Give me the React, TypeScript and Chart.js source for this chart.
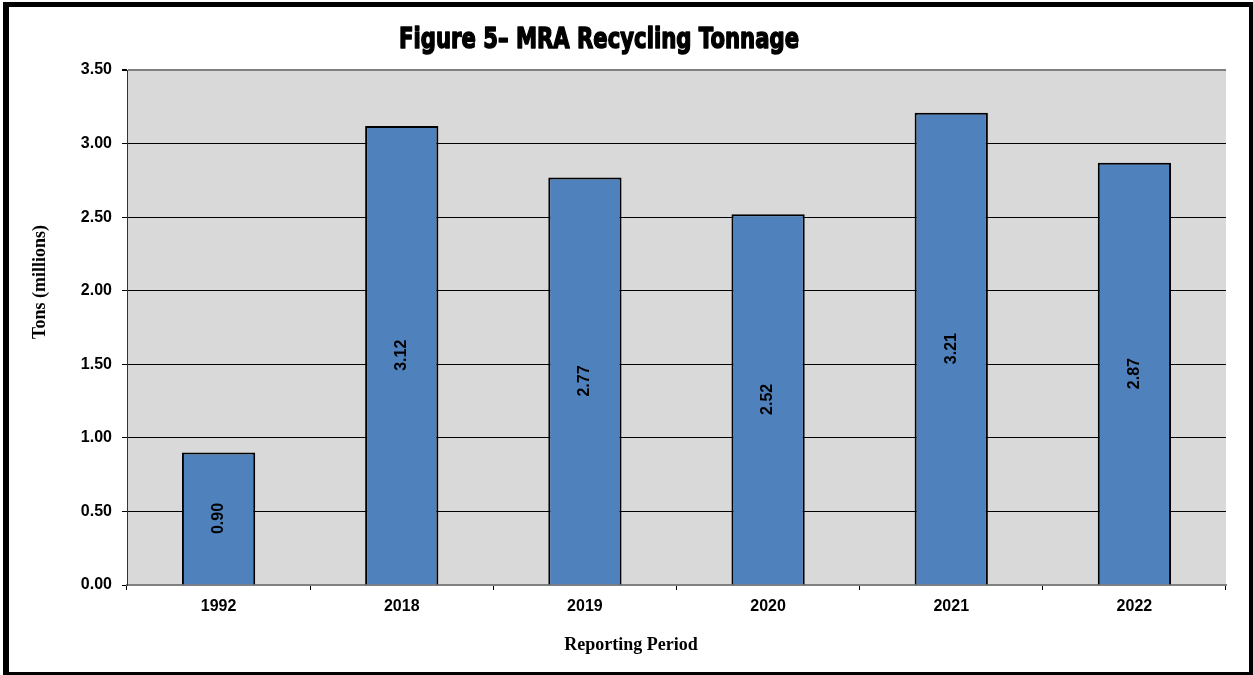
import React, { useEffect, useRef } from "react";
import { Chart, registerables } from "chart.js";

Chart.register(...registerables);

const TITLE = "Figure 5\u2013 MRA Recycling Tonnage";
const Y_TITLE = "Tons (millions)";
const X_TITLE = "Reporting Period";
const categories = ["1992", "2018", "2019", "2020", "2021", "2022"];
const tonnage = [0.9, 3.12, 2.77, 2.52, 3.21, 2.87];
const yMin = 0;
const yMax = 3.5;
const yStep = 0.5;

const plotBg = {
  id: "plotBg",
  beforeDraw(chart: any) {
    const { ctx, chartArea } = chart;
    ctx.save();
    ctx.fillStyle = "#d9d9d9";
    ctx.fillRect(chartArea.left, chartArea.top, chartArea.right - chartArea.left, chartArea.bottom - chartArea.top);
    ctx.restore();
  },
};

const barLabels = {
  id: "barLabels",
  afterDatasetsDraw(chart: any) {
    const { ctx } = chart;
    const meta = chart.getDatasetMeta(0);
    meta.data.forEach((bar: any, i: number) => {
      const p = bar.getProps(["x", "y", "base"], true);
      ctx.save();
      ctx.translate(p.x, (p.y + p.base) / 2);
      ctx.rotate(-Math.PI / 2);
      ctx.font = "bold 16px 'Liberation Sans', Arial, sans-serif";
      ctx.fillStyle = "#000";
      ctx.textAlign = "center";
      ctx.textBaseline = "middle";
      ctx.fillText(tonnage[i].toFixed(2), 0, 0);
      ctx.restore();
    });
  },
};

const texts = {
  id: "texts",
  afterDraw(chart: any) {
    const { ctx } = chart;
    // main title: heavy condensed look
    ctx.save();
    ctx.font = "bold 29px 'DejaVu Sans', sans-serif";
    const w = ctx.measureText(TITLE).width;
    const targetW = 400;
    ctx.translate(390, 41);
    ctx.scale(targetW / w, 1);
    ctx.fillStyle = "#000";
    ctx.strokeStyle = "#000";
    ctx.lineWidth = 1.6;
    ctx.lineJoin = "round";
    ctx.textAlign = "left";
    ctx.textBaseline = "alphabetic";
    ctx.fillText(TITLE, 0, 0);
    ctx.strokeText(TITLE, 0, 0);
    ctx.restore();

    // y axis title
    ctx.save();
    ctx.font = "bold 18px 'Liberation Serif', 'Times New Roman', serif";
    ctx.fillStyle = "#000";
    ctx.textAlign = "center";
    ctx.textBaseline = "middle";
    ctx.translate(31, 275);
    ctx.rotate(-Math.PI / 2);
    ctx.fillText(Y_TITLE, 0, 0);
    ctx.restore();

    // x axis title
    ctx.save();
    ctx.font = "bold 18px 'Liberation Serif', 'Times New Roman', serif";
    ctx.fillStyle = "#000";
    ctx.textAlign = "center";
    ctx.textBaseline = "middle";
    ctx.fillText(X_TITLE, 622, 638);
    ctx.restore();
  },
};

export default function App() {
  const ref = useRef<HTMLCanvasElement | null>(null);

  useEffect(() => {
    if (!ref.current) return;
    const tickFont = { family: "'Liberation Sans', Arial, sans-serif", size: 16, weight: "bold" as const };
    const chart = new Chart(ref.current, {
      type: "bar",
      data: {
        labels: categories,
        datasets: [
          {
            data: tonnage,
            backgroundColor: "#4f81bd",
            borderColor: "#000000",
            borderWidth: 2,
            barPercentage: 0.4,
            categoryPercentage: 1,
          },
        ],
      },
      options: {
        responsive: false,
        animation: false,
        layout: { padding: { top: 63, right: 23, left: 0, bottom: 0 } },
        plugins: {
          legend: { display: false },
          title: { display: false },
          tooltip: { enabled: false },
        },
        scales: {
          x: {
            offset: true,
            afterFit(s: any) {
              s.height = 87;
            },
            grid: {
              drawOnChartArea: false,
              drawTicks: true,
              tickLength: 5,
              tickColor: "#000",
              offset: true,
            },
            border: { color: "#808080", width: 2 },
            ticks: { color: "#000", font: tickFont, padding: 7, maxRotation: 0 },
          },
          y: {
            min: yMin,
            max: yMax,
            afterFit(s: any) {
              s.width = 118;
            },
            grid: {
              color: (c: any) => (c.tick && (c.tick.value === yMax || c.tick.value === yMin) ? "#808080" : "#000"),
              lineWidth: (c: any) => (c.tick && c.tick.value === yMax ? 2 : 1),
              tickLength: 5,
              tickColor: "#000",
            },
            border: { color: "#333", width: 1 },
            ticks: {
              stepSize: yStep,
              color: "#000",
              font: tickFont,
              padding: 10,
              callback: (v: any) => Number(v).toFixed(2),
            },
          },
        },
      },
      plugins: [plotBg, barLabels, texts],
    });
    return () => chart.destroy();
  }, []);

  return (
    <div
      style={{
        position: "absolute",
        left: 3,
        top: 2,
        width: 1250,
        height: 673,
        boxSizing: "border-box",
        borderLeft: "6px solid #000",
        borderTop: "5px solid #000",
        borderRight: "4px solid #000",
        borderBottom: "3px solid #000",
        background: "#fff",
      }}
    >
      <canvas ref={ref} width={1240} height={665} style={{ display: "block" }} />
    </div>
  );
}
